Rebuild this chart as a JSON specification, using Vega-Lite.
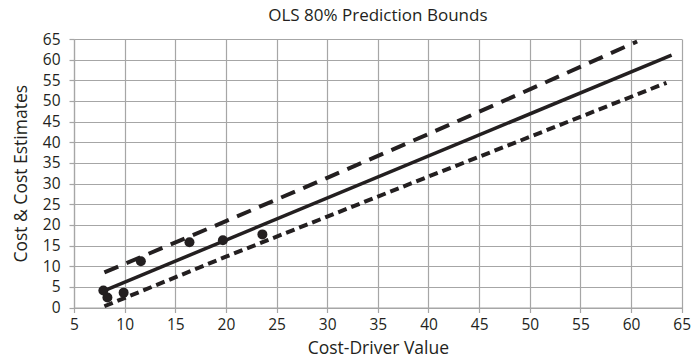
{
  "$schema": "https://vega.github.io/schema/vega-lite/v6.json",
  "autosize": "none",
  "width": 607.7,
  "height": 268.5,
  "padding": {"left": 74, "top": 39, "right": 9.3, "bottom": 54.5},
  "background": "white",
  "title": {"text": "OLS 80% Prediction Bounds", "fontSize": 17, "fontWeight": "normal", "font": "Open Sans", "color": "#231f20", "offset": 7},
  "config": {
    "view": {"stroke": null},
    "axis": {"gridColor": "#a6a6a6", "gridWidth": 1.2, "domainColor": "#a6a6a6", "domainWidth": 1.2, "tickColor": "#a6a6a6", "tickWidth": 1.2, "tickSize": 5, "labelFont": "Open Sans", "titleFont": "Open Sans", "labelFontSize": 15.5, "titleFontSize": 17.5, "labelColor": "#231f20", "titleColor": "#231f20", "titleFontWeight": "normal"}
  },
  "datasets": {
    "points": [
      {"x": 7.9, "y": 4.1}, {"x": 8.3, "y": 2.4}, {"x": 9.9, "y": 3.6},
      {"x": 11.6, "y": 11.2}, {"x": 16.4, "y": 15.8}, {"x": 19.7, "y": 16.3}, {"x": 23.6, "y": 17.7}
    ],
    "fit": [{"x": 8, "y": 4.1}, {"x": 64, "y": 61.1}],
    "upper": [
      {"x": 8, "y": 8.5}, {"x": 20, "y": 20.9}, {"x": 30, "y": 31.4},
      {"x": 40, "y": 42.0}, {"x": 50, "y": 52.8}, {"x": 60.6, "y": 64.4}
    ],
    "lower": [
      {"x": 8, "y": 0.3}, {"x": 20, "y": 12.3}, {"x": 30, "y": 22.0},
      {"x": 40, "y": 31.7}, {"x": 50, "y": 41.3}, {"x": 63.5, "y": 54.4}
    ]
  },
  "encoding": {
    "x": {"field": "x", "type": "quantitative", "scale": {"domain": [5, 65], "nice": false, "zero": false},
      "axis": {"title": "Cost-Driver Value", "values": [5,10,15,20,25,30,35,40,45,50,55,60,65], "labelPadding": 5, "titlePadding": 6, "labelFlush": false}},
    "y": {"field": "y", "type": "quantitative", "scale": {"domain": [0, 65], "nice": false},
      "axis": {"title": "Cost & Cost Estimates", "values": [0,5,10,15,20,25,30,35,40,45,50,55,60,65], "labelPadding": 9, "titlePadding": 12, "labelFlush": false}}
  },
  "layer": [
    {"data": {"name": "upper"}, "mark": {"type": "line", "color": "#231f20", "strokeWidth": 4, "strokeDash": [15, 9], "strokeCap": "butt"}},
    {"data": {"name": "lower"}, "mark": {"type": "line", "color": "#231f20", "strokeWidth": 4, "strokeDash": [9, 5], "strokeCap": "butt"}},
    {"data": {"name": "fit"}, "mark": {"type": "line", "color": "#231f20", "strokeWidth": 3.5}},
    {"data": {"name": "points"}, "mark": {"type": "point", "filled": true, "color": "#231f20", "opacity": 1, "size": 100}}
  ]
}
